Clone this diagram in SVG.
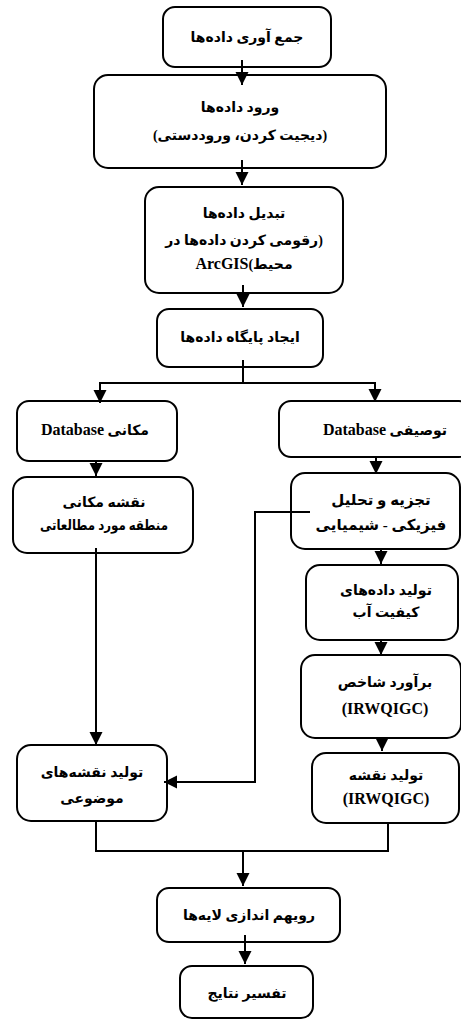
<svg xmlns="http://www.w3.org/2000/svg" width="461" height="1021" viewBox="0 0 461 1021">
<style>
.box{fill:#fff;stroke:#000;stroke-width:2}
.t{font-family:"Liberation Serif","DejaVu Sans",serif;font-weight:bold;font-size:14px;fill:#000;text-anchor:middle}
.r{direction:rtl}
.l{font-size:16px}
.m{font-size:15px}
.c{fill:none;stroke:#000;stroke-width:2;marker-end:url(#ah)}
.n{fill:none;stroke:#000;stroke-width:2}
</style>
<defs>
<marker id="ah" markerUnits="userSpaceOnUse" markerWidth="14" markerHeight="14" refX="13" refY="6.5" orient="auto" viewBox="0 0 14 13">
<path d="M0,0 L13,6.5 L0,13 z" fill="#000"/>
</marker>
</defs>
<rect width="461" height="1021" fill="#fff"/>
<g id="n1"><rect class="box" x="163" y="7" width="168" height="60" rx="12"/><text class="t r" x="247" y="42">جمع آوری داده‌ها</text></g>
<g id="n2"><rect class="box" x="94" y="75" width="292" height="93" rx="14"/><text class="t r" x="240" y="112">ورود داده‌ها</text><text class="t r" x="240" y="140">(دیجیت کردن، وروددستی)</text></g>
<g id="n3"><rect class="box" x="145" y="187" width="198" height="106" rx="14"/><text class="t r" x="244" y="218">تبدیل داده‌ها</text><text class="t r" x="244" y="245">(رقومی کردن داده‌ها در</text><text class="t r" x="244" y="269">محیط)<tspan class="l">ArcGIS</tspan></text></g>
<g id="n4"><rect class="box" x="157" y="309" width="166" height="58" rx="12"/><text class="t r" x="240" y="342">ایجاد پایگاه داده‌ها</text></g>
<g id="n5"><rect class="box" x="17" y="401" width="160" height="60" rx="12"/><text class="t r" x="95" y="435">مکانی <tspan class="l">Database</tspan></text></g>
<g id="n6"><rect class="box" x="279" y="401" width="192" height="56" rx="12"/><text class="t r" x="385" y="435">توصیفی <tspan class="l">Database</tspan></text></g>
<g id="n7"><rect class="box" x="13" y="477" width="180" height="76" rx="14"/><text class="t r" x="104" y="507">نقشه مکانی</text><text class="t r" x="104" y="530" textLength="128" lengthAdjust="spacingAndGlyphs">منطقه مورد مطالعاتی</text></g>
<g id="n8"><rect class="box" x="291" y="473" width="169" height="76" rx="14"/><text class="t r m" x="381" y="505">تجزیه و تحلیل</text><text class="t r m" x="381" y="530">فیزیکی - شیمیایی</text></g>
<g id="n9"><rect class="box" x="306" y="565" width="152" height="75" rx="14"/><text class="t r" x="386" y="595">تولید داده‌های</text><text class="t r" x="386" y="617">کیفیت آب</text></g>
<g id="n10"><rect class="box" x="301" y="655" width="160" height="83" rx="14"/><text class="t r" x="385" y="687">برآورد شاخص</text><text class="t l" x="385" y="714">(IRWQIGC)</text></g>
<g id="n11"><rect class="box" x="312" y="753" width="147" height="70" rx="14"/><text class="t r" x="386" y="780">تولید نقشه</text><text class="t l" x="386" y="804">(IRWQIGC)</text></g>
<g id="n12"><rect class="box" x="17" y="745" width="150" height="76" rx="14"/><text class="t r" x="92" y="777">تولید نقشه‌های</text><text class="t r" x="92" y="803">موضوعی</text></g>
<g id="n13"><rect class="box" x="157" y="888" width="183" height="54" rx="12"/><text class="t r" x="249" y="920">رویهم اندازی لایه‌ها</text></g>
<g id="n14"><rect class="box" x="180" y="966" width="133" height="52" rx="12"/><text class="t r" x="247" y="998">تفسیر نتایج</text></g>
<g id="connectors">
<path class="c" d="M242,60 V85"/>
<path class="c" d="M242,160 V185"/>
<path class="c" d="M243,285 V307"/>
<path class="c" d="M243,360 V383 H100 V403"/>
<path class="c" d="M243,383 H375 V402"/>
<path class="c" d="M96,461 V476"/>
<path class="c" d="M376,457 V474"/>
<path class="c" d="M381,549 V564"/>
<path class="c" d="M381,640 V655"/>
<path class="c" d="M382,738 V751"/>
<path class="c" d="M96,548 V745"/>
<path class="c" d="M310,512 H255 V782 H164"/>
<path class="n" d="M96,821 V851 H388 V822"/>
<path class="c" d="M243,851 V886"/>
<path class="c" d="M245,935 V964"/>
</g>
</svg>
